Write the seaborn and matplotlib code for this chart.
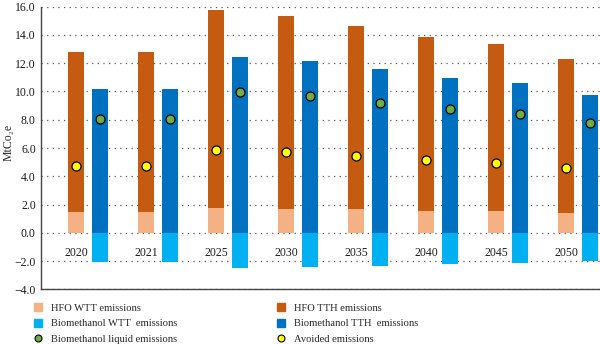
import numpy as np
import pandas as pd
import matplotlib
matplotlib.use("Agg")
import matplotlib.pyplot as plt
from matplotlib.lines import Line2D
import seaborn as sns

years = ["2020", "2021", "2025", "2030", "2035", "2040", "2045", "2050"]
hfo_wtt = [1.45, 1.45, 1.75, 1.70, 1.65, 1.56, 1.51, 1.37]
hfo_tth = [11.35, 11.35, 13.99, 13.66, 12.96, 12.30, 11.87, 10.95]
bio_wtt = [-2.05, -2.05, -2.52, -2.45, -2.36, -2.22, -2.12, -1.98]
bio_tth = [10.15, 10.15, 12.46, 12.16, 11.57, 10.97, 10.60, 9.77]
bio_liquid = [8.07, 8.07, 9.94, 9.68, 9.20, 8.73, 8.43, 7.77]
avoided = [4.74, 4.74, 5.83, 5.69, 5.41, 5.12, 4.96, 4.56]

C_HFO_WTT = "#F4B183"
C_HFO_TTH = "#C55A11"
C_BIO_WTT = "#00B0F0"
C_BIO_TTH = "#0070C0"
C_GREEN = "#70AD47"
C_YELLOW = "#FFFF00"

sns.set_theme(style="white")
plt.rcParams["font.family"] = ["Liberation Serif", "DejaVu Serif"]
plt.rcParams["axes.unicode_minus"] = True

hfo_total = [w + t for w, t in zip(hfo_wtt, hfo_tth)]

# back layer: HFO total (WTT + TTH) and biomethanol TTH
back = pd.DataFrame({
    "year": years * 2,
    "value": hfo_total + bio_tth,
    "fuel": ["HFO"] * len(years) + ["Biomethanol"] * len(years),
})
# front layer: WTT parts (HFO on top of its bar base, biomethanol below zero)
front = pd.DataFrame({
    "year": years * 2,
    "value": hfo_wtt + bio_wtt,
    "fuel": ["HFO"] * len(years) + ["Biomethanol"] * len(years),
})

fig = plt.figure(figsize=(6.0, 3.44), dpi=100)
ax = fig.add_axes([0.069, 0.159, 0.931, 0.8215])

bar_kw = dict(x="year", y="value", hue="fuel", order=years,
              hue_order=["HFO", "Biomethanol"], width=0.686, gap=0.33,
              errorbar=None, legend=False, ax=ax, linewidth=0, saturation=1)
sns.barplot(data=back, palette=[C_HFO_TTH, C_BIO_TTH], **bar_kw)
sns.barplot(data=front, palette=[C_HFO_WTT, C_BIO_WTT], **bar_kw)

idx = np.arange(len(years))
off = 0.1715
sns.scatterplot(x=idx + off, y=bio_liquid, ax=ax, color=C_GREEN, s=42,
                edgecolor="black", linewidth=0.9, zorder=5, legend=False)
sns.scatterplot(x=idx - off, y=avoided, ax=ax, color=C_YELLOW, s=42,
                edgecolor="black", linewidth=0.9, zorder=5, legend=False)

# year labels sit just below the zero line, under the HFO bars
for i, y in enumerate(years):
    ax.text(i - off, -1.45, y, ha="center", va="center", fontsize=8.5,
            color="#1a1a1a")

ax.set_xlim(-0.667, 7.314)
ax.set_ylim(-4, 16)
ticks = np.arange(-4, 16.1, 2)
ax.set_yticks(ticks)
ax.set_yticklabels([f"{v:.1f}".replace("-", "\u2212") for v in ticks])
ax.set_xticks([])
ax.set_xlabel("")
ax.set_ylabel("MtCo\u2082e", fontsize=8.5)
ax.yaxis.set_label_coords(-0.048, 0.52)
ax.tick_params(axis="y", length=0, labelsize=8.5, pad=4, colors="#1a1a1a")
ax.yaxis.grid(True, linestyle=(0, (1, 3.5)), color="#555555", linewidth=0.9)
ax.set_axisbelow(True)
for s in ["top", "right"]:
    ax.spines[s].set_visible(False)
for s in ["left", "bottom"]:
    ax.spines[s].set_color("#444444")
    ax.spines[s].set_linewidth(1.0)

handles = [
    Line2D([], [], linestyle="none", marker="s", markersize=6, color=C_HFO_WTT),
    Line2D([], [], linestyle="none", marker="s", markersize=6, color=C_BIO_WTT),
    Line2D([], [], linestyle="none", marker="o", markersize=5, markerfacecolor=C_GREEN,
           markeredgecolor="black", markeredgewidth=0.8),
    Line2D([], [], linestyle="none", marker="s", markersize=6, color=C_HFO_TTH),
    Line2D([], [], linestyle="none", marker="s", markersize=6, color=C_BIO_TTH),
    Line2D([], [], linestyle="none", marker="o", markersize=5, markerfacecolor=C_YELLOW,
           markeredgecolor="black", markeredgewidth=0.8),
]
labels = ["HFO WTT emissions", "Biomethanol WTT  emissions", "Biomethanol liquid emissions",
          "HFO TTH emissions", "Biomethanol TTH  emissions", "Avoided emissions"]
fig.legend(handles, labels, ncol=2, loc="upper left", bbox_to_anchor=(0.054, 0.117),
           frameon=False, fontsize=7.6, handlelength=1.0, handletextpad=0.75,
           labelspacing=0.56, columnspacing=9.35, borderaxespad=0, borderpad=0)

fig.savefig("out.png", dpi=100)
